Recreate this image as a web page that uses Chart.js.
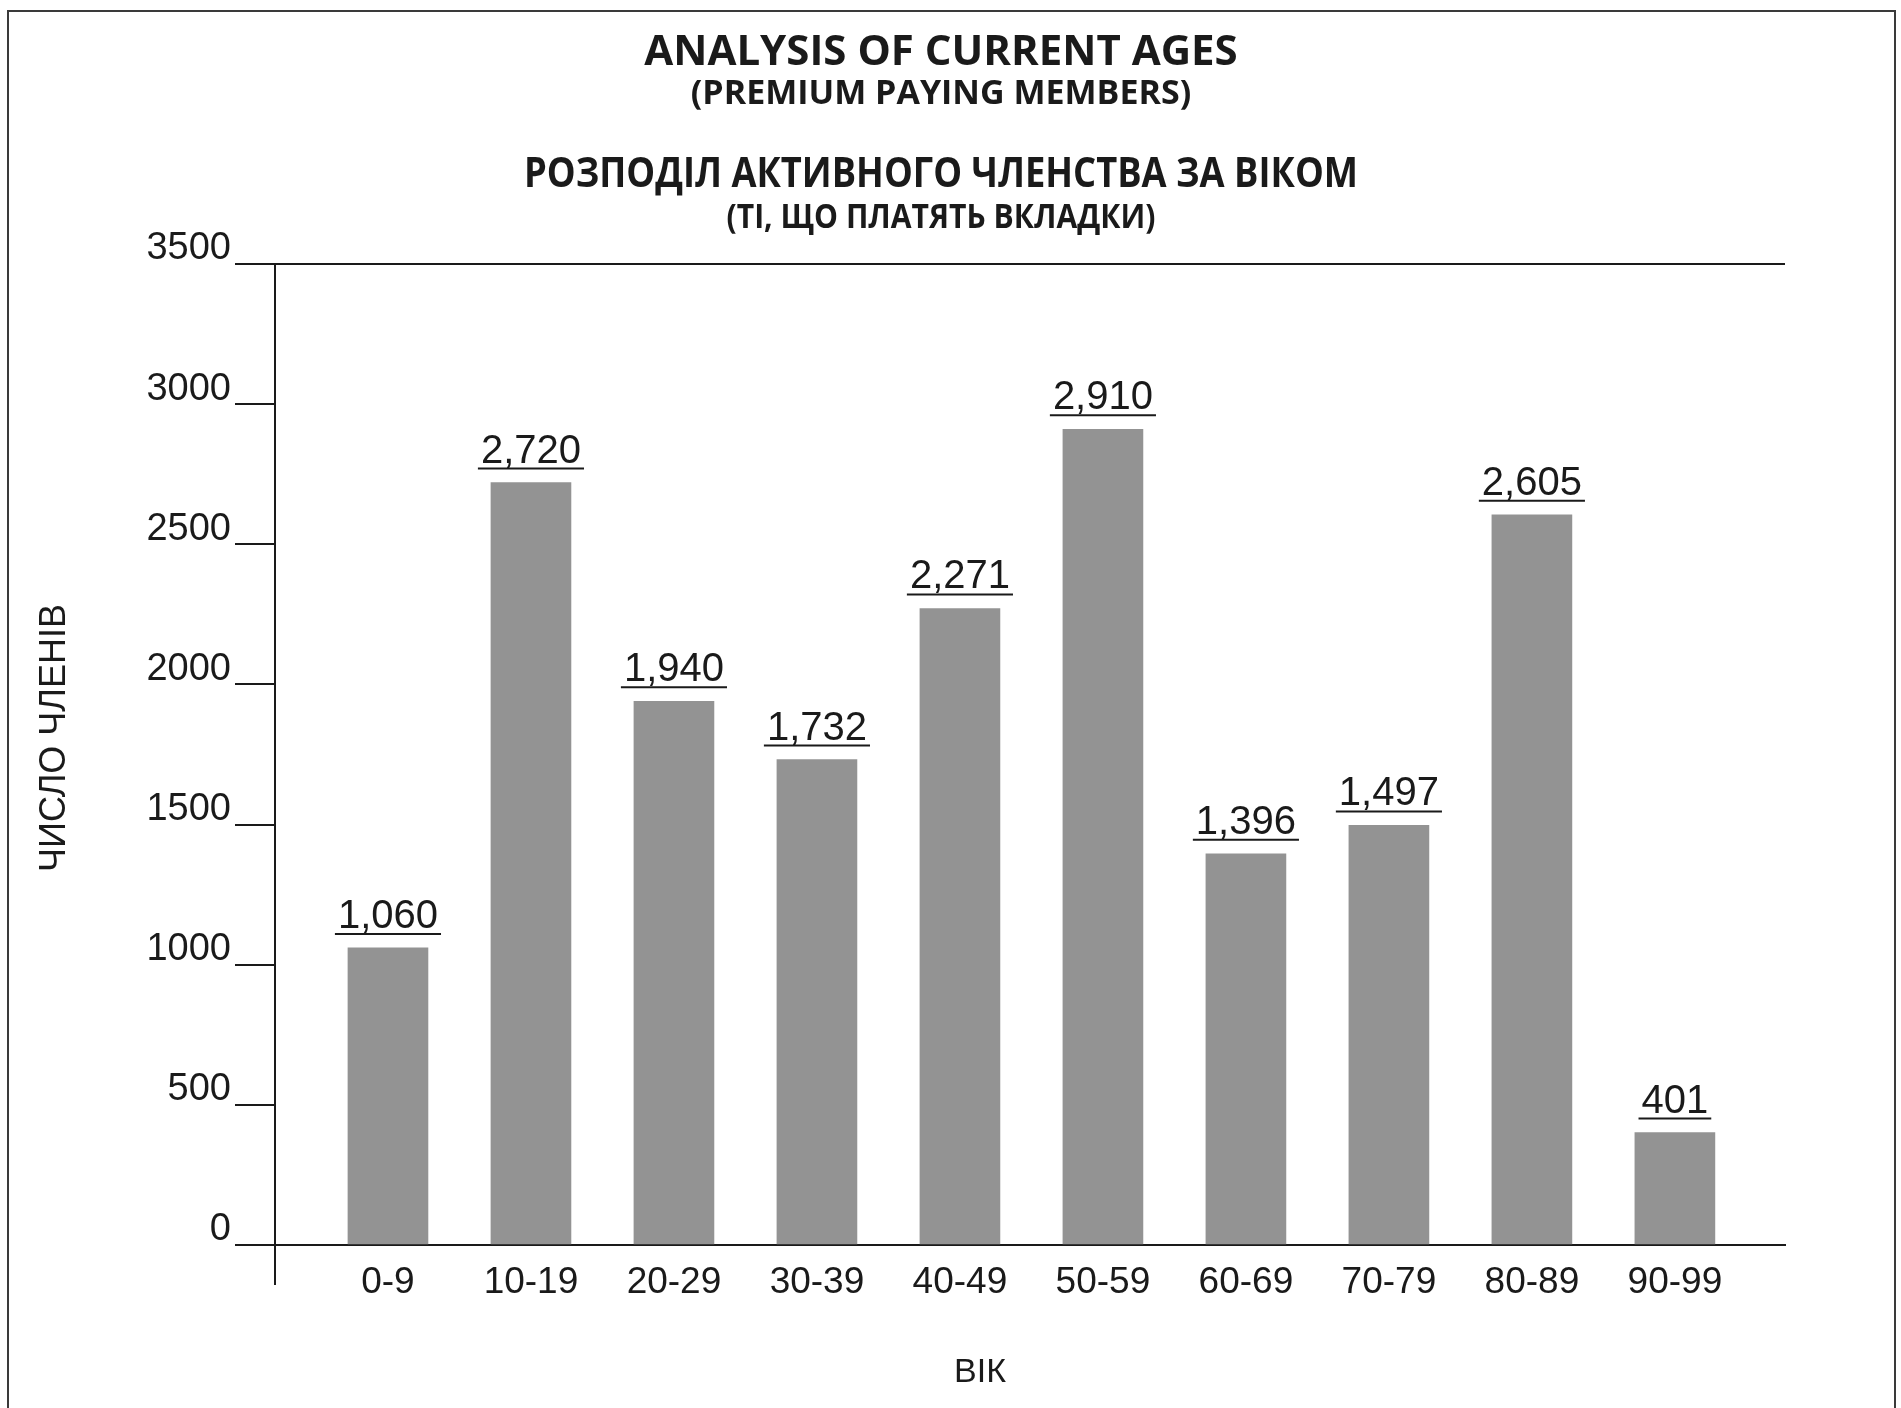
<!DOCTYPE html>
<html>
<head>
<meta charset="utf-8">
<title>Analysis of current ages</title>
<script src="https://cdn.jsdelivr.net/npm/chart.js@4.4.1/dist/chart.umd.min.js"></script>
<style>
  html, body { margin: 0; padding: 0; background: #ffffff; }
  #wrap { position: relative; width: 1901px; height: 1408px; overflow: hidden; }
  #frame { position: absolute; left: 7px; top: 10px; width: 1889px; height: 1440px;
           border: 2px solid #3a3a3a; box-sizing: border-box; }
  #chart { position: absolute; left: 0; top: 0; }
</style>
</head>
<body>
<div id="wrap">
  <div id="frame"></div>
  <canvas id="chart" width="1901" height="1408"></canvas>
</div>
<script>
// Heading lines (English and Ukrainian)
const headingLines = [
  'ANALYSIS OF CURRENT AGES',
  '(PREMIUM PAYING MEMBERS)',
  'РОЗПОДІЛ АКТИВНОГО ЧЛЕНСТВА ЗА ВІКОМ',
  '(ТІ, ЩО ПЛАТЯТЬ ВКЛАДКИ)'
];

// Age groups and number of premium-paying members in each
const ageGroups = ['0-9', '10-19', '20-29', '30-39', '40-49', '50-59', '60-69', '70-79', '80-89', '90-99'];
const memberCounts = [1060, 2720, 1940, 1732, 2271, 2910, 1396, 1497, 2605, 401];

// Value axis range and step
const yMin = 0;
const yMax = 3500;
const yStep = 500;

const yAxisTitle = 'ЧИСЛО ЧЛЕНІВ';
const xAxisTitle = 'ВІК';

// ---- layout / style ----
const INK = '#1a1a1a';
const BAR_GREY = '#939393';
const AXIS_FONT = '"Liberation Sans", Arial, Helvetica, sans-serif';
const HEAD_FONT = '"Open Sans", "Noto Sans", sans-serif';
const X_START = -0.79;   // left edge of the value range, in group units
const X_END = 9.77;

// headings: size, baseline, widest allowed
const headingStyle = [
  { size: 42, y: 65, maxW: 620 },
  { size: 34, y: 104, maxW: 520 },
  { size: 42, y: 187, maxW: 834 },
  { size: 34, y: 228, maxW: 429 }
];

const headingPlugin = {
  id: 'headings',
  afterDraw(chart) {
    const ctx = chart.ctx;
    ctx.save();
    ctx.fillStyle = INK;
    ctx.textAlign = 'center';
    ctx.textBaseline = 'alphabetic';
    headingLines.forEach((t, i) => {
      const s = headingStyle[i];
      ctx.font = `700 ${s.size}px ${HEAD_FONT}`;
      ctx.fillText(t, 941, s.y, s.maxW);
    });

    // axis titles
    ctx.font = `34px ${AXIS_FONT}`;
    ctx.textBaseline = 'middle';
    ctx.fillText(xAxisTitle, 980, 1373);
    ctx.translate(55, 738);
    ctx.rotate(-Math.PI / 2);
    ctx.font = `36px ${AXIS_FONT}`;
    ctx.fillText(yAxisTitle, 0, 0);
    ctx.restore();
  }
};

// underlined value written above each bar
const valueLabelPlugin = {
  id: 'valueLabels',
  afterDatasetsDraw(chart) {
    const ctx = chart.ctx;
    const meta = chart.getDatasetMeta(0);
    ctx.save();
    ctx.font = `40px ${AXIS_FONT}`;
    ctx.fillStyle = INK;
    ctx.strokeStyle = INK;
    ctx.lineWidth = 2;
    ctx.textAlign = 'center';
    ctx.textBaseline = 'alphabetic';
    meta.data.forEach((bar, i) => {
      const text = memberCounts[i].toLocaleString('en-US');
      const w = ctx.measureText(text).width;
      ctx.fillText(text, bar.x, bar.y - 20);
      ctx.beginPath();
      ctx.moveTo(bar.x - w / 2 - 3, bar.y - 14);
      ctx.lineTo(bar.x + w / 2 + 3, bar.y - 14);
      ctx.stroke();
    });
    ctx.restore();
  }
};

new Chart(document.getElementById('chart'), {
  type: 'bar',
  data: {
    datasets: [{
      data: memberCounts.map((v, i) => ({ x: i, y: v })),
      backgroundColor: BAR_GREY,
      borderWidth: 0,
      barThickness: 80
    }]
  },
  options: {
    responsive: false,
    animation: false,
    devicePixelRatio: 1,
    layout: { padding: { top: 264, left: 0, right: 116, bottom: 0 } },
    plugins: {
      legend: { display: false },
      tooltip: { enabled: false }
    },
    scales: {
      x: {
        type: 'linear',
        bounds: 'data',
        offset: false,
        min: X_START,
        max: X_END,
        afterBuildTicks(scale) {
          scale.ticks = [{ value: X_START }].concat(ageGroups.map((g, i) => ({ value: i })));
        },
        afterFit(scale) { scale.height = 163; },
        ticks: {
          maxRotation: 0,
          autoSkip: false,
          padding: -24,
          color: INK,
          font: { family: AXIS_FONT, size: 37 },
          callback: (v) => Number.isInteger(v) ? ageGroups[v] : ''
        },
        grid: {
          offset: false,
          drawOnChartArea: false,
          drawTicks: true,
          tickLength: 40,
          lineWidth: 2,
          tickColor: (c) => (c.tick && c.tick.value === X_START) ? INK : 'rgba(0,0,0,0)'
        },
        border: { display: true, color: INK, width: 2 },
        title: { display: false }
      },
      y: {
        min: yMin,
        max: yMax,
        afterFit(scale) { scale.width = 275; },
        ticks: {
          stepSize: yStep,
          padding: 4,
          labelOffset: -15,
          color: INK,
          font: { family: AXIS_FONT, size: 38 },
          callback: (v) => String(v)
        },
        grid: {
          lineWidth: 2,
          tickLength: 40,
          color: (c) => (c.tick && c.tick.value === yMax) ? INK : 'rgba(0,0,0,0)',
          tickColor: INK
        },
        border: { display: true, color: INK, width: 2 },
        title: { display: false }
      }
    }
  },
  plugins: [headingPlugin, valueLabelPlugin]
});
</script>
</body>
</html>
